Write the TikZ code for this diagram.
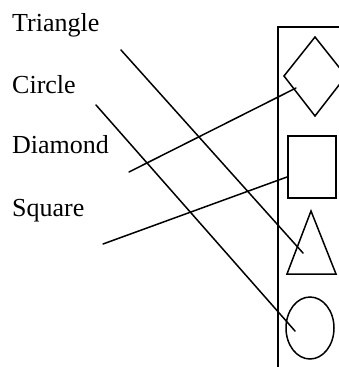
\documentclass[tikz,border=0pt]{standalone}
\usepackage{fontspec}
\setmainfont{Liberation Serif}
\usetikzlibrary{shapes.geometric}
\begin{document}
\begin{tikzpicture}[x=1pt,y=-1pt,
  lbl/.style={anchor=base west,inner sep=0pt,font=\fontsize{26}{30}\selectfont},
  ln/.style={line width=1.5pt,line cap=round,line join=miter}]
\useasboundingbox (0,0) rectangle (339,367);
\clip (0,0) rectangle (339,367);
% labels
\node[lbl] (tri) at (12,31) {Triangle};
\node[lbl] (cir) at (12,93) {Circle};
\node[lbl] (dia) at (12,153) {Diamond};
\node[lbl] (squ) at (12,216) {Square};
% frame
\coordinate (ftop) at (278,27);
\coordinate (fbot) at (278,370);
\coordinate (fright) at (342,27);
\draw[ln] (fbot) -- (ftop) -- (fright);
% shapes
\draw[ln] (315,37) -- (346,76) -- (315,116) -- (284,76) -- cycle;
\draw[ln] (288,136) rectangle (336,198);
\draw[ln] (311,211) -- (336,274) -- (287,274) -- cycle;
\draw[ln] (310,328) ellipse [x radius=24, y radius=31];
% connector ends
\coordinate (t1) at (121,50);  \coordinate (t2) at (303,253);
\coordinate (c1) at (96,105);  \coordinate (c2) at (295,331);
\coordinate (d1) at (296,88);  \coordinate (d2) at (129,172);
\coordinate (s1) at (287,177); \coordinate (s2) at (103,244);
\draw[ln] (t1) -- (t2);
\draw[ln] (c1) -- (c2);
\draw[ln] (d1) -- (d2);
\draw[ln] (s1) -- (s2);
\end{tikzpicture}
\end{document}
